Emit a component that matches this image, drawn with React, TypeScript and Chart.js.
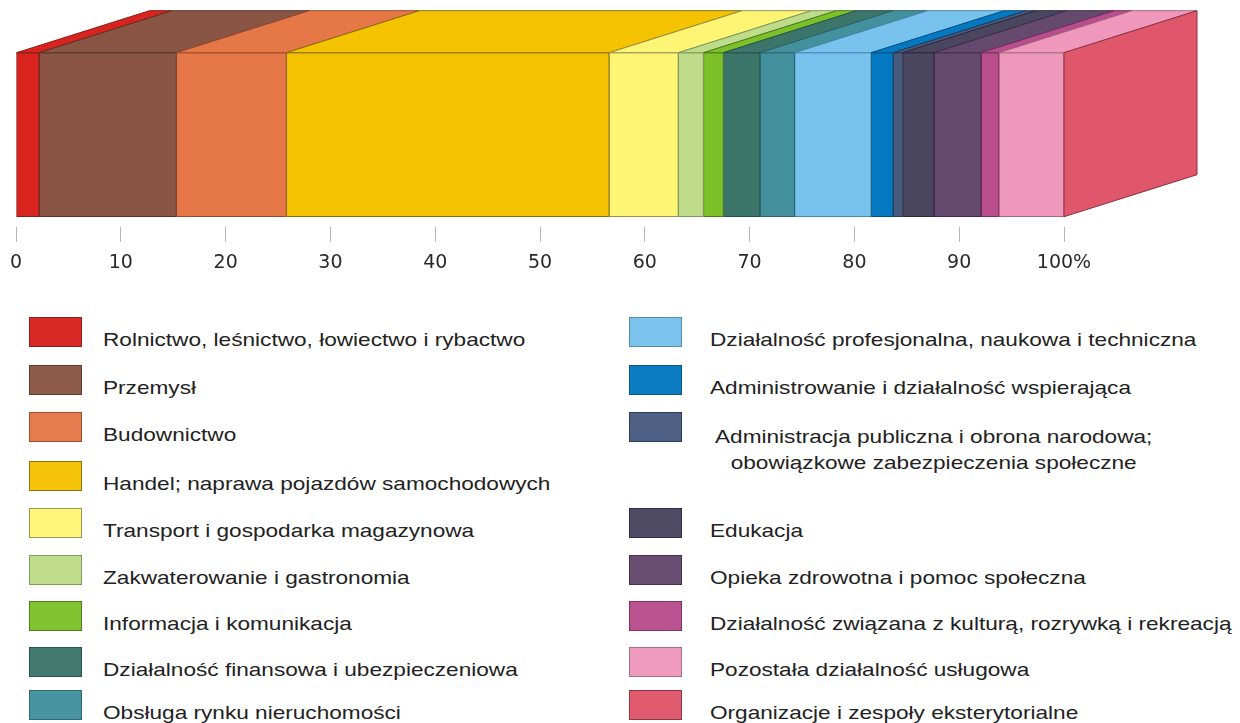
import React, { useEffect, useRef } from "react";
import { Chart, registerables } from "chart.js";

Chart.register(...registerables);

// ---------- data ----------
const categories = [""];
const sectorLabels = [
  "Rolnictwo, leśnictwo, łowiectwo i rybactwo",
  "Przemysł",
  "Budownictwo",
  "Handel; naprawa pojazdów samochodowych",
  "Transport i gospodarka magazynowa",
  "Zakwaterowanie i gastronomia",
  "Informacja i komunikacja",
  "Działalność finansowa i ubezpieczeniowa",
  "Obsługa rynku nieruchomości",
  "Działalność profesjonalna, naukowa i techniczna",
  "Administrowanie i działalność wspierająca",
  "Administracja publiczna i obrona narodowa;\nobowiązkowe zabezpieczenia społeczne",
  "Edukacja",
  "Opieka zdrowotna i pomoc społeczna",
  "Działalność związana z kulturą, rozrywką i rekreacją",
  "Pozostała działalność usługowa",
  "Organizacje i zespoły eksterytorialne",
];
const sectorShares = [2.2, 13.1, 10.5, 30.8, 6.6, 2.4, 1.9, 3.5, 3.3, 7.3, 2.1, 0.9, 3.0, 4.5, 1.7, 6.2, 0];
const tickLabels = ["0", "10", "20", "30", "40", "50", "60", "70", "80", "90", "100%"];

// ---------- styles ----------
const sectorColors = [
  "#d9231e", "#8b5545", "#e67848", "#f5c200", "#fff574", "#bedc8a", "#7dc12a", "#3c756a",
  "#44919e", "#78c3ee", "#0478c0", "#485a7e", "#4a4660", "#66496e", "#b94e8e", "#ef98bb", "#e0566a",
];
const sectorBorders = [
  "#8a1a14", "#5a3328", "#9a4a2a", "#8a7010", "#9a9450", "#7a9a5a", "#4a7a1a", "#24504a",
  "#2a6470", "#4a8ab0", "#035080", "#2a3850", "#2a2840", "#402c48", "#7a2e5c", "#a86a80", "#8a3040",
];
const DEPTH_DX = 133;
const DEPTH_DY = -42;
const FONT = "'Liberation Sans', Arial, Helvetica, sans-serif";
const TICK_FONT = "'DejaVu Sans', 'Liberation Sans', Arial, sans-serif";
const LEGEND_ROW_TOPS = [317, 365, 412, 461, 508, 555, 601, 647, 690];

const depthPlugin = {
  id: "depth3d",
  afterDatasetsDraw(chart: any) {
    const ctx = chart.ctx;
    const n = chart.data.datasets.length;
    ctx.save();
    ctx.lineWidth = 1;
    ctx.lineJoin = "round";
    let lastEl: any = null;
    for (let i = 0; i < n; i++) {
      const meta = chart.getDatasetMeta(i);
      const el = meta.data[0];
      if (!el) continue;
      const p = el.getProps(["x", "y", "base", "height"], true);
      const top = p.y - p.height / 2;
      const x0 = Math.min(p.x, p.base);
      const x1 = Math.max(p.x, p.base);
      if (x1 - x0 > 0.05) {
        ctx.beginPath();
        ctx.moveTo(x0, top);
        ctx.lineTo(x1, top);
        ctx.lineTo(x1 + DEPTH_DX, top + DEPTH_DY);
        ctx.lineTo(x0 + DEPTH_DX, top + DEPTH_DY);
        ctx.closePath();
        ctx.fillStyle = sectorColors[i];
        ctx.fill();
        ctx.strokeStyle = sectorBorders[i];
        ctx.stroke();
      }
      lastEl = { p, i };
    }
    if (lastEl) {
      const { p, i } = lastEl;
      const top = p.y - p.height / 2;
      const bottom = p.y + p.height / 2;
      const xr = Math.max(p.x, p.base);
      ctx.beginPath();
      ctx.moveTo(xr, top);
      ctx.lineTo(xr + DEPTH_DX, top + DEPTH_DY);
      ctx.lineTo(xr + DEPTH_DX, bottom + DEPTH_DY);
      ctx.lineTo(xr, bottom);
      ctx.closePath();
      ctx.fillStyle = sectorColors[i];
      ctx.fill();
      ctx.strokeStyle = sectorBorders[i];
      ctx.stroke();
    }
    ctx.restore();
  },
};

function BarChart() {
  const ref = useRef<HTMLCanvasElement>(null);
  useEffect(() => {
    if (!ref.current) return;
    const chart = new Chart(ref.current, {
      type: "bar",
      data: {
        labels: categories,
        datasets: sectorLabels.map((label, i) => ({
          label,
          data: [sectorShares[i]],
          backgroundColor: sectorColors[i],
          borderColor: sectorBorders[i],
          borderWidth: sectorShares[i] > 0 ? 1 : 0,
          borderSkipped: false,
          barThickness: 164,
        })),
      },
      options: {
        indexAxis: "y",
        responsive: false,
        animation: false,
        devicePixelRatio: 1,
        layout: { padding: { left: 16, right: 176, top: 42.6, bottom: 15.4 } },
        plugins: { legend: { display: false }, tooltip: { enabled: false } },
        scales: {
          x: {
            stacked: true,
            min: 0,
            max: 100,
            ticks: {
              stepSize: 10,
              padding: 10,
              color: "#2a2a2a",
              font: { family: TICK_FONT, size: 19 },
              callback: (_v: any, idx: number) => tickLabels[idx],
              maxRotation: 0,
              autoSkip: false,
            },
            grid: {
              drawOnChartArea: false,
              drawTicks: true,
              tickLength: 15,
              color: "#b5b5b5",
              lineWidth: 1,
            },
            border: { display: false },
          },
          y: {
            stacked: true,
            display: false,
          },
        },
      },
      plugins: [depthPlugin],
    } as any);
    return () => chart.destroy();
  }, []);
  return <canvas ref={ref} width={1240} height={300} style={{ position: "absolute", left: 0, top: 0, width: 1240, height: 300 }} />;
}

function Legend() {
  const items = sectorLabels.map((label, i) => {
    const left = i < 9;
    const row = left ? i : i - 9 + (i >= 12 ? 1 : 0);
    const top = LEGEND_ROW_TOPS[row];
    const multi = label.includes("\n");
    return (
      <React.Fragment key={i}>
        <div
          style={{
            position: "absolute",
            left: left ? 29 : 629,
            top,
            width: 53,
            height: 30,
            boxSizing: "border-box",
            background: sectorColors[i],
            border: `1px solid ${sectorBorders[i]}`,
            opacity: 0.97,
          }}
        />
        <div
          style={{
            position: "absolute",
            left: left ? 103 : multi ? 715 : 710,
            top: top + 12,
            fontFamily: FONT,
            fontSize: 19,
            lineHeight: multi ? "26.3px" : "22px",
            color: "#222",
            whiteSpace: "pre",
            textAlign: "center",
            transform: "scaleX(1.19)",
            transformOrigin: "0 0",
          }}
        >
          {label}
        </div>
      </React.Fragment>
    );
  });
  return <>{items}</>;
}

export default function App() {
  return (
    <div style={{ position: "absolute", left: 0, top: 0, width: 1240, height: 723, background: "#fff", overflow: "hidden" }}>
      <BarChart />
      <Legend />
    </div>
  );
}
